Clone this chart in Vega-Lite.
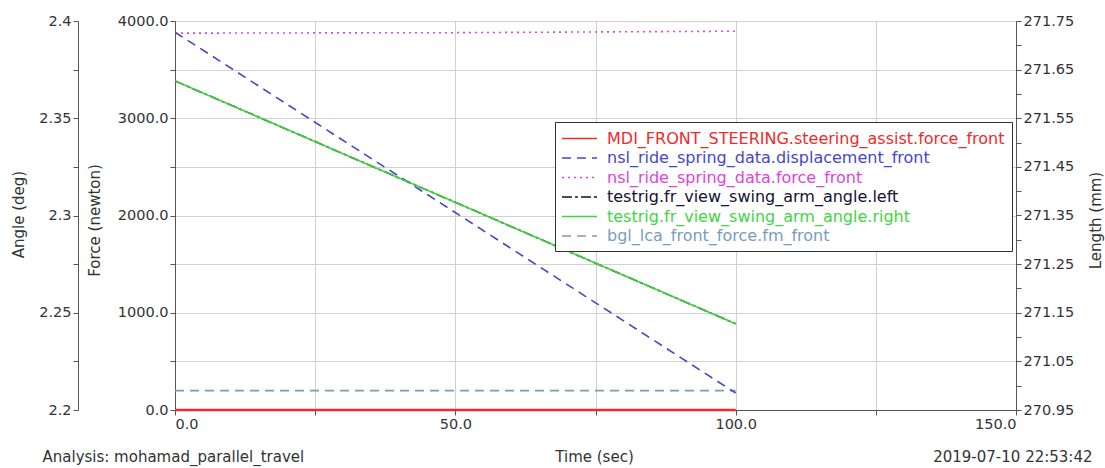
{
  "$schema": "https://vega.github.io/schema/vega-lite/v6.json",
  "width": 841,
  "height": 389,
  "autosize": "none",
  "padding": {"left": 175, "top": 21, "right": 89, "bottom": 58},
  "background": "white",
  "config": {
    "view": {"stroke": "#666666", "strokeWidth": 1},
    "axis": {
      "labelFont": "DejaVu Sans",
      "titleFont": "DejaVu Sans",
      "labelFontSize": 14.5,
      "titleFontSize": 15,
      "titleFontWeight": "normal",
      "labelColor": "#333333",
      "titleColor": "#333333",
      "domainColor": "#555555",
      "tickColor": "#555555",
      "gridColor": "#d0d0d0",
      "tickSize": 5,
      "labelPadding": 2
    }
  },
  "datasets": {
    "d": [
      {"series": "MDI_FRONT_STEERING.steering_assist.force_front", "time": 0, "value": 0},
      {"series": "MDI_FRONT_STEERING.steering_assist.force_front", "time": 100, "value": 0},
      {"series": "nsl_ride_spring_data.force_front", "time": 0, "value": 3875},
      {"series": "nsl_ride_spring_data.force_front", "time": 50, "value": 3880},
      {"series": "nsl_ride_spring_data.force_front", "time": 100, "value": 3895},
      {"series": "bgl_lca_front_force.fm_front", "time": 0, "value": 199},
      {"series": "bgl_lca_front_force.fm_front", "time": 100, "value": 199},
      {"series": "nsl_ride_spring_data.displacement_front", "time": 0, "value": 271.727},
      {"series": "nsl_ride_spring_data.displacement_front", "time": 100, "value": 270.985},
      {"series": "testrig.fr_view_swing_arm_angle.left", "time": 0, "value": 2.3692},
      {"series": "testrig.fr_view_swing_arm_angle.left", "time": 100, "value": 2.2443},
      {"series": "testrig.fr_view_swing_arm_angle.right", "time": 0, "value": 2.3692},
      {"series": "testrig.fr_view_swing_arm_angle.right", "time": 100, "value": 2.2443}
    ]
  },
  "data": {"name": "d"},
  "encoding": {
    "color": {
      "field": "series",
      "type": "nominal",
      "scale": {
        "domain": [
          "MDI_FRONT_STEERING.steering_assist.force_front",
          "nsl_ride_spring_data.displacement_front",
          "nsl_ride_spring_data.force_front",
          "testrig.fr_view_swing_arm_angle.left",
          "testrig.fr_view_swing_arm_angle.right",
          "bgl_lca_front_force.fm_front"
        ],
        "range": ["#ee2b2b", "#4646cc", "#dd44dd", "#111133", "#3fd63f", "#7a9cbc"]
      },
      "legend": {
        "orient": "none",
        "legendX": 380,
        "legendY": 101,
        "title": null,
        "symbolType": "M-2.06,0H2.06",
        "symbolSize": 289,
        "symbolStrokeWidth": 1.6,
        "symbolOffset": 8,
        "labelFont": "DejaVu Sans",
        "labelFontSize": 16,
        "labelLimit": 600,
        "labelOffset": 18,
        "rowPadding": 1.5,
        "padding": 7,
        "fillColor": "white",
        "strokeColor": "#333333",
        "encode": {"labels": {"update": {"fill": {"scale": "color", "field": "value"}}}}
      }
    },
    "strokeDash": {
      "field": "series",
      "type": "nominal",
      "scale": {
        "domain": [
          "MDI_FRONT_STEERING.steering_assist.force_front",
          "nsl_ride_spring_data.displacement_front",
          "nsl_ride_spring_data.force_front",
          "testrig.fr_view_swing_arm_angle.left",
          "testrig.fr_view_swing_arm_angle.right",
          "bgl_lca_front_force.fm_front"
        ],
        "range": [[1, 0], [9, 6], [2, 4], [10, 3, 3, 3], [1, 0], [9, 6]]
      },
      "legend": null
    }
  },
  "layer": [
    {
      "transform": [{"filter": "datum.series == 'MDI_FRONT_STEERING.steering_assist.force_front' || datum.series == 'nsl_ride_spring_data.force_front' || datum.series == 'bgl_lca_front_force.fm_front'"}],
      "mark": {"type": "line", "clip": false},
      "encoding": {
        "x": {
          "field": "time", "type": "quantitative",
          "scale": {"domain": [0, 150], "nice": false, "zero": false},
          "axis": {
            "orient": "bottom",
            "values": [0, 25, 50, 75, 100, 125, 150],
            "labelExpr": "datum.value % 50 == 0 ? format(datum.value, '.1f') : ''",
            "grid": true,
            "title": "Time (sec)",
            "titleX": 419,
            "titleY": 46,
            "titleBaseline": "middle",
            "titleAlign": "center"
          }
        },
        "y": {
          "field": "value", "type": "quantitative",
          "scale": {"domain": [0, 4000], "nice": false, "zero": false},
          "axis": {
            "orient": "left",
            "values": [0, 500, 1000, 1500, 2000, 2500, 3000, 3500, 4000],
            "labelExpr": "datum.value % 1000 == 0 ? format(datum.value, '.1f') : ''",
            "grid": true,
            "title": "Force (newton)",
            "titleAngle": -90,
            "titleX": -81,
            "titleY": 199,
            "titleAlign": "center",
            "titleBaseline": "middle"
          }
        },
        "strokeWidth": {"condition": {"test": "datum.series == 'MDI_FRONT_STEERING.steering_assist.force_front'", "value": 2.5}, "value": 1.6}
      }
    },
    {
      "transform": [{"filter": "datum.series == 'nsl_ride_spring_data.displacement_front'"}],
      "mark": {"type": "line", "strokeWidth": 1.6, "clip": true},
      "encoding": {
        "x": {
          "field": "time", "type": "quantitative",
          "scale": {"domain": [0, 150], "nice": false, "zero": false},
          "axis": {
            "orient": "bottom",
            "labels": false, "ticks": false, "domain": false, "grid": false,
            "title": "Analysis:  mohamad_parallel_travel",
            "titleX": -133,
            "titleY": 46,
            "titleBaseline": "middle",
            "titleAlign": "left"
          }
        },
        "y": {
          "field": "value", "type": "quantitative",
          "scale": {"domain": [270.95, 271.75], "nice": false, "zero": false},
          "axis": {
            "orient": "right",
            "values": [270.95, 271.0, 271.05, 271.1, 271.15, 271.2, 271.25, 271.3, 271.35, 271.4, 271.45, 271.5, 271.55, 271.6, 271.65, 271.7, 271.75],
            "labelExpr": "abs((datum.value - 270.95) / 0.1 - round((datum.value - 270.95) / 0.1)) < 0.01 ? format(datum.value, '.2f') : ''",
            "grid": false,
            "title": "Length (mm)",
            "titleAngle": -90,
            "titleX": 79,
            "titleY": 199,
            "titleAlign": "center",
            "titleBaseline": "middle"
          }
        }
      }
    },
    {
      "transform": [{"filter": "datum.series == 'testrig.fr_view_swing_arm_angle.left' || datum.series == 'testrig.fr_view_swing_arm_angle.right'"}],
      "mark": {"type": "line", "strokeWidth": 1.6, "clip": true},
      "encoding": {
        "x": {
          "field": "time", "type": "quantitative",
          "scale": {"domain": [0, 150], "nice": false, "zero": false},
          "axis": {
            "orient": "bottom",
            "labels": false, "ticks": false, "domain": false, "grid": false,
            "title": "2019-07-10 22:53:42",
            "titleX": 917,
            "titleY": 46,
            "titleBaseline": "middle",
            "titleAlign": "right"
          }
        },
        "y": {
          "field": "value", "type": "quantitative",
          "scale": {"domain": [2.2, 2.4], "nice": false, "zero": false},
          "axis": {
            "orient": "left",
            "offset": 97,
            "values": [2.2, 2.225, 2.25, 2.275, 2.3, 2.325, 2.35, 2.375, 2.4],
            "labelExpr": "abs(datum.value * 20 - round(datum.value * 20)) < 0.01 ? format(datum.value, '~g') : ''",
            "grid": false,
            "title": "Angle (deg)",
            "titleAngle": -90,
            "titleX": -60,
            "titleY": 193,
            "titleAlign": "center",
            "titleBaseline": "middle"
          }
        }
      }
    }
  ],
  "resolve": {
    "scale": {"y": "independent"},
    "axis": {"x": "independent", "y": "independent"}
  }
}
